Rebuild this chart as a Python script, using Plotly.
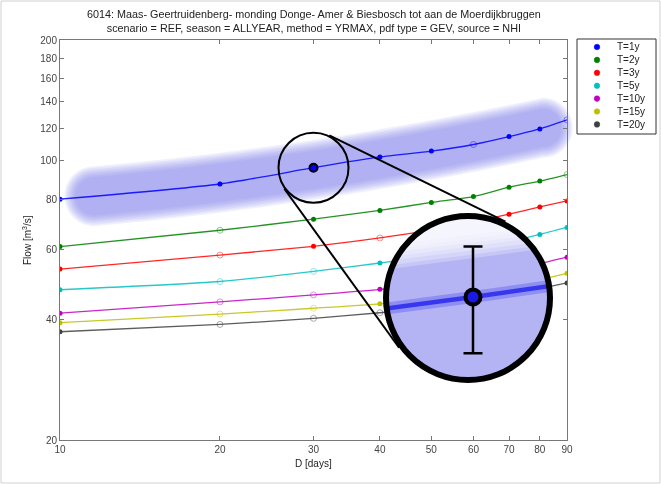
import numpy as np
import plotly.graph_objects as go

# ---------------- data ----------------
durations = [10, 20, 30, 40, 50, 60, 70, 80, 90]          # D [days]
series_names = ["T=1y", "T=2y", "T=3y", "T=5y", "T=10y", "T=15y", "T=20y"]
q_t1 = [80.0, 87.3, 95.9, 102.0, 105.5, 109.6, 114.7, 119.9, 126.3]
q_t2 = [60.9, 66.9, 71.3, 75.0, 78.5, 81.2, 85.7, 88.8, 92.2]
q_t3 = [53.5, 58.0, 61.0, 64.0, 67.0, 70.2, 73.4, 76.5, 79.2]
q_t5 = [47.5, 49.8, 52.8, 55.4, 57.6, 60.0, 62.6, 65.3, 68.0]
q_t10 = [41.5, 44.3, 46.1, 47.6, 49.3, 51.2, 53.2, 55.2, 57.3]
q_t15 = [39.3, 41.3, 42.7, 43.8, 45.4, 47.0, 48.7, 50.4, 52.2]
q_t20 = [37.3, 38.9, 40.3, 41.6, 43.0, 44.6, 46.1, 47.8, 49.4]
# 1 = filled marker, 0 = open marker
filled_t1 = [1, 1, 1, 1, 1, 0, 1, 1, 0]
filled_t2 = [1, 0, 1, 1, 1, 1, 1, 1, 0]
filled_t3 = [1, 0, 1, 0, 1, 1, 1, 1, 1]
filled_t5 = [1, 0, 0, 1, 1, 1, 1, 1, 1]
filled_t10 = [1, 0, 0, 1, 1, 1, 1, 1, 1]
filled_t15 = [1, 0, 0, 1, 1, 1, 1, 1, 1]
filled_t20 = [1, 0, 0, 0, 1, 1, 1, 1, 1]
x_ticks = [10, 20, 30, 40, 50, 60, 70, 80, 90]
y_ticks = [20, 40, 60, 80, 100, 120, 140, 160, 180, 200]
highlight_duration = 30
highlight_error = 10.0
title_line1 = "6014: Maas- Geertruidenberg- monding Donge- Amer & Biesbosch tot aan de Moerdijkbruggen"
title_line2 = "scenario = REF, season = ALLYEAR, method = YRMAX, pdf type = GEV, source = NHI"

all_q = [q_t1, q_t2, q_t3, q_t5, q_t10, q_t15, q_t20]
all_filled = [filled_t1, filled_t2, filled_t3, filled_t5, filled_t10, filled_t15, filled_t20]
colors = ["#0000ff", "#008000", "#ff0000", "#00bfbf", "#bf00bf", "#bfbf00", "#404040"]

# ---------------- geometry ----------------
FW, FH = 661, 484
ML, MR, MT, MB = 60, 94, 40, 44
PW, PH = FW - ML - MR, FH - MT - MB
LX0, LX1 = np.log10(10), np.log10(90)
LY0, LY1 = np.log10(20), np.log10(200)
FONT = "Liberation Sans, Arial, sans-serif"


def to_px(x, y):
    px = ML + PW * (np.log10(x) - LX0) / (LX1 - LX0)
    py = MT + PH * (LY1 - np.log10(y)) / (LY1 - LY0)
    return px, py


def pxx(px):
    return (px - ML) / PW


def pxy(py):
    return (MT + PH - py) / PH


fig = go.Figure()

# ---------------- main series ----------------
for name, q, fl, col in zip(series_names, all_q, all_filled, colors):
    fig.add_trace(go.Scatter(x=durations, y=q, mode="lines",
                             line=dict(color=col, width=1.3, shape="spline", smoothing=0.6),
                             opacity=0.85, showlegend=False, hoverinfo="skip"))
    xf = [d for d, f in zip(durations, fl) if f]
    yf = [v for v, f in zip(q, fl) if f]
    xo = [d for d, f in zip(durations, fl) if not f]
    yo = [v for v, f in zip(q, fl) if not f]
    fig.add_trace(go.Scatter(x=xf, y=yf, mode="markers", name=name,
                             marker=dict(color=col, size=5), showlegend=False))
    fig.add_trace(go.Scatter(x=xo, y=yo, mode="markers",
                             marker=dict(color=col, size=6, symbol="circle-open",
                                         line=dict(width=1)),
                             opacity=0.45, showlegend=False))

hi_idx = durations.index(highlight_duration)
hi_q = q_t1[hi_idx]
fig.add_trace(go.Scatter(x=[highlight_duration], y=[hi_q], mode="markers",
                         marker=dict(color=colors[0], size=8, line=dict(color="black", width=2)),
                         showlegend=False))

shapes = []

# ---------------- highlight band along T=1y ----------------
lxd = np.log10(durations)
coef = np.polyfit(lxd, np.log10(q_t1), 2)
bx0, bx1 = 11.6, 81.0
lx_dense = np.linspace(np.log10(bx0), np.log10(bx1), 60)
cx_d = ML + PW * (lx_dense - LX0) / (LX1 - LX0)
cy_d = MT + PH * (LY1 - np.polyval(coef, lx_dense)) / (LY1 - LY0)
for h in np.linspace(30, 19, 8):
    pts = [(x, y - h) for x, y in zip(cx_d, cy_d)]
    for a in np.linspace(-np.pi / 2, np.pi / 2, 25):
        pts.append((cx_d[-1] + h * np.cos(a), cy_d[-1] + h * np.sin(a)))
    pts += [(x, y + h) for x, y in zip(cx_d[::-1], cy_d[::-1])]
    for a in np.linspace(np.pi / 2, 1.5 * np.pi, 25):
        pts.append((cx_d[0] + h * np.cos(a), cy_d[0] + h * np.sin(a)))
    path = "M " + " L ".join(f"{pxx(x):.5f},{pxy(y):.5f}" for x, y in pts) + " Z"
    shapes.append(dict(type="path", xref="paper", yref="paper", path=path,
                       fillcolor="rgb(125,125,238)", opacity=0.11,
                       line=dict(width=0), layer="below"))

# ---------------- magnifier ----------------
c1x, c1y = to_px(highlight_duration, hi_q)
r1 = 35
c2x, c2y = 468.0, 298.0
r2 = 82
shapes.append(dict(type="circle", xref="paper", yref="paper",
                   x0=pxx(c1x - r1), x1=pxx(c1x + r1), y0=pxy(c1y + r1), y1=pxy(c1y - r1),
                   line=dict(color="black", width=2), layer="above"))
# external tangents between the two circles
R1, R2 = r1 + 1, r2 + 3
dx, dy = c2x - c1x, c2y - c1y
dist = np.hypot(dx, dy)
base = np.arctan2(dy, dx)
alpha = np.arccos((R1 - R2) / dist)
for sgn in (1, -1):
    ang = base + sgn * alpha
    nx, ny = np.cos(ang), np.sin(ang)
    shapes.append(dict(type="line", xref="paper", yref="paper",
                       x0=pxx(c1x + R1 * nx), y0=pxy(c1y + R1 * ny),
                       x1=pxx(c2x + R2 * nx), y1=pxy(c2y + R2 * ny),
                       line=dict(color="black", width=2), layer="above"))

# inset axes (log10 units, magnified)
Kx, Ky = 2060.0, 1175.0
mk_px, mk_py = 473.0, 297.0
sq_l, sq_b, side = c2x - r2, c2y + r2, 2 * r2
lx_hi, ly_hi = np.log10(highlight_duration), np.log10(hi_q)
xr0 = lx_hi - (mk_px - sq_l) / Kx
xr1 = xr0 + side / Kx
yr0 = ly_hi - (sq_b - mk_py) / Ky
yr1 = yr0 + side / Ky


def inset(px, py):
    return xr0 + (px - sq_l) / Kx, yr0 + (sq_b - py) / Ky


shapes.append(dict(type="circle", xref="x2", yref="y2", x0=xr0, x1=xr1, y0=yr0, y1=yr1,
                   fillcolor="#b4b4f5", line=dict(width=0), layer="below"))
s_log = (np.log10(q_t1[hi_idx + 1]) - np.log10(q_t1[hi_idx - 1])) / \
        (np.log10(durations[hi_idx + 1]) - np.log10(durations[hi_idx - 1]))
s_px = s_log * Ky / Kx
angs = np.linspace(-1.5 * np.pi, 0.5 * np.pi, 361)
for off in [38, 42, 46, 50, 54, 58, 62]:
    pts = []
    for a in angs:
        px = c2x + (r2 - 0.5) * np.cos(a)
        py = c2y + (r2 - 0.5) * np.sin(a)
        if py < mk_py - s_px * (px - mk_px) - off:
            pts.append(inset(px, py))
    if len(pts) > 2:
        path = "M " + " L ".join(f"{x:.6f},{y:.6f}" for x, y in pts) + " Z"
        shapes.append(dict(type="path", xref="x2", yref="y2", path=path,
                           fillcolor="white", opacity=0.26, line=dict(width=0), layer="below"))
# ring drawn in paper coordinates so it is not clipped by the inset area
shapes.append(dict(type="circle", xref="paper", yref="paper",
                   x0=pxx(c2x - r2), x1=pxx(c2x + r2), y0=pxy(c2y + r2), y1=pxy(c2y - r2),
                   line=dict(color="black", width=6), layer="above"))

ly_all = np.log10(q_t1)
fig.add_trace(go.Scatter(x=lxd, y=ly_all, mode="lines", xaxis="x2", yaxis="y2",
                         line=dict(color="rgba(60,60,240,0.30)", width=12),
                         showlegend=False, hoverinfo="skip"))
fig.add_trace(go.Scatter(x=lxd, y=ly_all, mode="lines", xaxis="x2", yaxis="y2",
                         line=dict(color="rgba(40,40,235,0.85)", width=4.5),
                         showlegend=False, hoverinfo="skip"))
fig.add_trace(go.Scatter(
    x=[lx_hi], y=[ly_hi], mode="markers", xaxis="x2", yaxis="y2",
    marker=dict(color="#1a1ae6", size=15, line=dict(color="black", width=4)),
    error_y=dict(type="data", symmetric=False,
                 array=[np.log10(hi_q + highlight_error) - ly_hi],
                 arrayminus=[ly_hi - np.log10(hi_q - highlight_error)],
                 color="black", thickness=2.5, width=9.5),
    showlegend=False, hoverinfo="skip"))

# ---------------- custom legend ----------------
lg_x0, lg_y0, lg_x1, lg_y1 = 577, 39, 656, 134
shapes.append(dict(type="rect", xref="paper", yref="paper",
                   x0=pxx(lg_x0), x1=pxx(lg_x1), y0=pxy(lg_y1), y1=pxy(lg_y0),
                   fillcolor="white", line=dict(color="#333333", width=1), layer="above"))
annotations = []
for i, (name, col) in enumerate(zip(series_names, colors)):
    ry = 47 + 12.9 * i
    shapes.append(dict(type="circle", xref="paper", yref="paper",
                       x0=pxx(597 - 2.8), x1=pxx(597 + 2.8), y0=pxy(ry + 2.8), y1=pxy(ry - 2.8),
                       fillcolor=col, line=dict(color=col, width=0.5), layer="above"))
    annotations.append(dict(text=name, xref="paper", yref="paper", x=pxx(615), y=pxy(ry),
                            xanchor="left", yanchor="middle", showarrow=False,
                            font=dict(size=10, color="#222222", family=FONT)))

# ---------------- titles ----------------
annotations.append(dict(text=title_line1 + "<br>" + title_line2, xref="paper", yref="paper",
                        x=0.5, y=pxy(21), xanchor="center", yanchor="middle", showarrow=False,
                        font=dict(size=10.8, color="#222222", family=FONT)))
annotations.append(dict(text="D [days]", xref="paper", yref="paper", x=0.5, y=pxy(463),
                        xanchor="center", yanchor="middle", showarrow=False,
                        font=dict(size=10, color="#222222", family=FONT)))
annotations.append(dict(text="Flow [m<sup>3</sup>/s]", xref="paper", yref="paper",
                        x=pxx(27), y=0.5, textangle=-90, xanchor="center", yanchor="middle",
                        showarrow=False, font=dict(size=10, color="#222222", family=FONT)))

# figure frame
shapes.append(dict(type="rect", xref="paper", yref="paper",
                   x0=pxx(1), x1=pxx(FW - 1), y0=pxy(FH - 1), y1=pxy(1),
                   line=dict(color="#d0d0d0", width=1), layer="below"))

axis_common = dict(showgrid=False, zeroline=False, showline=True, linecolor="#777777",
                   linewidth=1, mirror="ticks", ticks="inside", ticklen=4,
                   tickcolor="#777777", tickfont=dict(size=10, color="#444444", family=FONT))
fig.update_layout(
    width=FW, height=FH,
    margin=dict(l=ML, r=MR, t=MT, b=MB, autoexpand=False),
    paper_bgcolor="white", plot_bgcolor="rgba(0,0,0,0)",
    showlegend=False,
    xaxis=dict(type="log", range=[LX0, LX1], tickmode="array", tickvals=x_ticks,
               ticktext=[str(v) for v in x_ticks], **axis_common),
    yaxis=dict(type="log", range=[LY0, LY1], tickmode="array", tickvals=y_ticks,
               ticktext=[str(v) for v in y_ticks], **axis_common),
    xaxis2=dict(domain=[pxx(sq_l), pxx(sq_l + side)], range=[xr0, xr1], visible=False,
                anchor="y2", fixedrange=True),
    yaxis2=dict(domain=[pxy(sq_b), pxy(sq_b - side)], range=[yr0, yr1], visible=False,
                anchor="x2", fixedrange=True),
    shapes=shapes, annotations=annotations,
    font=dict(family=FONT),
)

fig.write_html("out.html", config={"displayModeBar": False},
               post_script="document.body.style.margin='0px';"
                           "document.body.style.overflow='hidden';")
